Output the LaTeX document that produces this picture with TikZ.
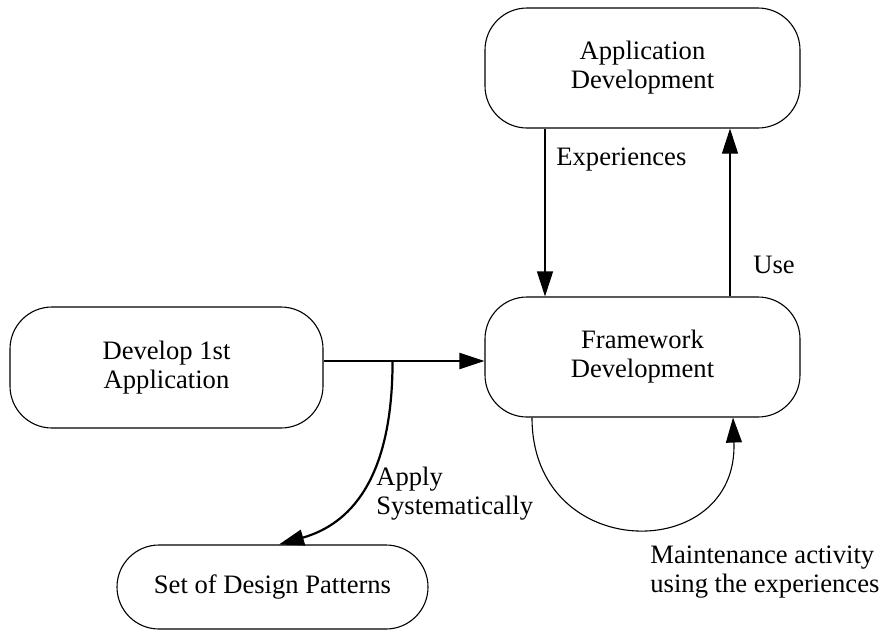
\documentclass[tikz,border=0pt]{standalone}
\usepackage{fontspec}
\setmainfont{Liberation Serif}
\usetikzlibrary{arrows.meta,calc}
\begin{document}
\begin{tikzpicture}[x=0.5pt,y=-0.5pt,
  box/.style={draw,line width=0.55pt,rounded corners=21pt,align=center,inner sep=0pt},
  lbl/.style={align=left,inner sep=0pt,anchor=west},
  thin/.style={line width=0.55pt},
  thick/.style={line width=1.1pt},
  tip/.style={-{Triangle[length=12.5pt,width=8pt]}},
  every node/.style={font=\fontsize{13.3}{14.5}\selectfont}]
\useasboundingbox (0,0) rectangle (883,632);
\node[box,minimum width=156.5pt,minimum height=60.5pt] (dev) at (166.5,367.5) {Develop 1st\\Application};
\node[box,minimum width=155.5pt,minimum height=42pt] (pat) at (272.5,587) {Set of Design Patterns};
\node[box,minimum width=157.5pt,minimum height=60pt] (app) at (642.5,68) {Application\\Development};
\node[box,minimum width=157.5pt,minimum height=60pt] (fw) at (642.5,357) {Framework\\Development};
\coordinate (hs) at ($(dev.east)+(0,-6.5)$);
\coordinate (br) at ($(hs)+(69,0)$);
\coordinate (ptip) at ($(pat.north)+(6.5,0)$);
\draw[thick,tip] (hs) -- (hs -| fw.west);
\draw[thick,tip] (br) .. controls ($(br)+(0,120)$) and ($(ptip)+(70,-20)$) .. (ptip);
\draw[thin,tip] ($(app.south)+(-97.5,0)$) -- ($(fw.north)+(-97.5,0)$);
\draw[thin,tip] ($(fw.north)+(87.5,0)$) -- ($(app.south)+(87.5,0)$);
\draw[thin,tip] ($(fw.south)+(-110.5,0)$) .. controls ($(fw.south)+(-110.5,147)$) and ($(fw.south)+(96,147)$) .. ($(fw.south)+(90.5,0)$);
\node[lbl] (lexp) at (556,160) {Experiences};
\node[lbl] (luse) at (753,265) {Use};
\node[lbl] (lapp) at (376,494) {Apply\\Systematically};
\node[lbl] (lmnt) at (650,572) {Maintenance activity\\using the experiences};
\end{tikzpicture}
\end{document}
